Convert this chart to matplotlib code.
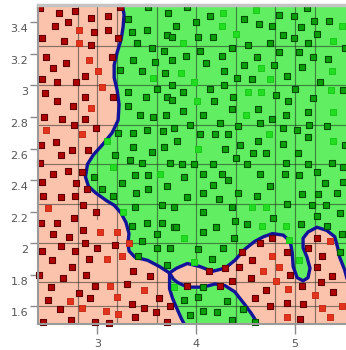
import matplotlib
matplotlib.use("Agg")
import matplotlib.pyplot as plt
from matplotlib.transforms import ScaledTranslation

# ---- class A (red) samples --------------------------------------------------
red_dark_x = [2.42, 2.61, 2.77, 2.94, 3.11, 3.23, 2.57, 2.70, 2.97, 3.11, 2.44, 2.66, 2.94, 3.21,
              2.48, 2.68, 3.15, 2.55, 2.44, 2.59, 2.78, 2.88, 2.47, 3.16, 2.59, 2.75, 2.88, 2.46,
              2.64, 2.88, 2.76, 2.99, 2.43, 2.58, 2.74, 2.91, 2.63, 2.42, 2.55, 2.70, 2.84, 2.44,
              2.78, 2.45, 2.63, 2.77, 2.90, 2.85, 2.99, 2.43, 2.59, 2.76, 2.55, 2.71, 2.85, 2.44,
              2.63, 2.77, 2.88, 3.00, 3.18, 2.54, 2.74, 2.92, 2.41, 2.65, 2.89, 3.36, 3.53, 2.53,
              2.98, 3.30, 2.81, 2.93, 3.62, 2.50, 3.35, 3.47, 3.73, 2.62, 3.38, 3.59, 2.45, 2.73,
              2.98, 3.12, 3.70,
              3.91, 4.24, 4.13, 4.29, 4.36, 4.43, 4.46, 4.56, 4.55, 4.59, 4.64, 4.77, 4.92, 4.95,
              5.07, 4.71, 4.75, 4.92, 5.08, 5.05, 5.22, 5.13, 5.27, 5.22, 5.37, 5.26, 5.38]
red_dark_y = [3.49, 3.46, 3.47, 3.43, 3.44, 3.50, 3.38, 3.40, 3.34, 3.35, 3.30, 3.28, 3.26, 3.30,
              3.18, 3.14, 3.18, 3.11, 3.04, 3.02, 3.02, 3.06, 2.95, 2.93, 2.90, 2.87, 2.93, 2.80,
              2.79, 2.79, 2.75, 2.73, 2.62, 2.64, 2.59, 2.59, 2.56, 2.51, 2.44, 2.46, 2.45, 2.39,
              2.38, 2.30, 2.29, 2.30, 2.34, 2.24, 2.20, 2.13, 2.13, 2.16, 2.06, 2.04, 2.08, 1.95,
              1.98, 1.95, 2.00, 1.97, 1.99, 1.89, 1.85, 1.90, 1.80, 1.78, 1.80, 1.82, 1.79, 1.72,
              1.73, 1.74, 1.68, 1.65, 1.65, 1.64, 1.61, 1.59, 1.60, 1.58, 1.53, 1.56, 1.50, 1.51,
              1.50, 1.49, 1.50,
              1.73, 1.73, 1.82, 1.84, 1.76, 1.85, 1.94, 1.89, 1.78, 1.65, 2.00, 2.03, 1.94, 1.80,
              1.73, 1.70, 1.60, 1.62, 1.61, 1.52, 2.03, 1.97, 1.92, 1.85, 1.79, 1.75, 1.69]

red_light_x = [2.81, 2.81, 2.92, 3.01, 3.05, 2.94, 2.48, 2.84, 2.50, 3.03, 3.20, 3.10, 3.25, 3.13,
               3.20, 3.47, 2.72, 2.84, 3.09, 3.21, 3.32, 4.67, 4.77, 4.84, 4.81, 4.93, 5.27, 4.92,
               5.35, 5.35, 5.47, 5.20]
red_light_y = [3.35, 3.27, 3.16, 3.09, 2.99, 2.86, 2.72, 2.69, 2.22, 2.07, 2.07, 1.90, 1.92, 1.73,
               1.66, 1.70, 1.63, 1.59, 1.57, 1.55, 2.00, 1.82, 1.92, 1.85, 1.76, 1.71, 1.59, 1.53,
               1.53, 2.01, 1.60, 1.67]

# ---- class B (green) samples ------------------------------------------------
green_dark_x = [3.51, 3.71, 3.31, 3.50, 3.35, 3.70, 3.40, 3.55, 3.67, 3.36, 3.58, 3.23, 3.45, 3.68,
                3.60, 3.31, 3.49, 3.70, 3.31, 3.43, 3.56, 3.69, 3.21, 3.36, 3.50, 3.66, 3.77, 3.36,
                3.67, 3.18, 3.55, 3.33, 3.45, 3.73, 2.97, 3.38, 3.51, 3.25, 3.05, 3.39, 3.51, 3.70,
                3.16, 3.38, 3.65, 3.78, 3.50, 3.65, 3.78, 3.35, 3.60, 3.45, 3.60, 3.73, 3.41, 3.70,
                4.02, 4.16, 4.27, 4.38,
                3.91, 4.14, 3.80, 4.00, 4.48, 4.63, 4.77, 4.84, 4.99, 5.12, 5.19, 5.34, 3.75, 4.02,
                4.17, 4.52, 4.75, 4.88, 4.99, 5.06, 5.13, 5.22, 4.04, 4.36, 4.84, 5.04, 5.18, 5.33,
                5.50, 3.75, 3.90, 4.26, 4.61, 4.79, 5.07, 4.10, 4.28, 4.48, 3.75, 4.14, 4.28, 4.41,
                4.56, 4.92, 5.25, 3.87, 4.81, 5.00, 5.48, 3.75, 4.18, 4.37, 4.93, 5.18, 3.87, 4.07,
                4.36, 4.62, 4.77, 4.91, 5.13, 3.94, 4.24, 4.42, 4.64, 4.88, 5.02, 5.14, 5.32, 3.81,
                4.04, 4.19, 4.32, 4.62, 4.88, 5.13, 5.50, 4.29, 4.44, 5.03, 4.57, 4.71, 3.86, 3.98,
                4.17, 4.40, 4.51, 4.91, 5.13, 5.37, 5.48, 4.07, 4.64, 4.90, 5.04, 5.22, 4.26, 5.48,
                5.30,
                3.88, 4.07, 4.17, 4.32, 4.42, 4.61, 4.75, 5.07, 5.23, 5.42, 3.91, 4.23, 4.07, 4.36,
                4.92, 5.17, 5.31, 5.45, 3.80, 4.07, 4.20, 4.39, 4.51, 4.78, 5.06, 5.22, 5.32, 5.47,
                5.45,
                3.88, 4.02, 4.31, 3.94, 4.07, 4.21, 4.36, 4.47, 4.59, 4.07]
green_dark_y = [3.50, 3.46, 3.42, 3.35, 3.34, 3.32, 3.27, 3.24, 3.22, 3.16, 3.15, 3.10, 3.09, 3.08,
                2.98, 2.96, 2.93, 2.93, 2.87, 2.81, 2.80, 2.81, 2.70, 2.70, 2.72, 2.71, 2.73, 2.61,
                2.61, 2.56, 2.58, 2.53, 2.51, 2.51, 2.42, 2.43, 2.43, 2.38, 2.34, 2.32, 2.34, 2.36,
                2.30, 2.23, 2.24, 2.23, 2.13, 2.13, 2.10, 2.11, 2.06, 2.01, 1.97, 1.97, 1.92, 1.86,
                1.96, 1.90, 1.97, 2.03,
                3.50, 3.44, 3.38, 3.40, 3.42, 3.39, 3.38, 3.45, 3.44, 3.49, 3.41, 3.41, 3.31, 3.31,
                3.31, 3.26, 3.27, 3.32, 3.30, 3.37, 3.27, 3.33, 3.22, 3.24, 3.21, 3.21, 3.18, 3.17,
                3.24, 3.16, 3.19, 3.19, 3.18, 3.13, 3.12, 3.14, 3.09, 3.13, 3.00, 2.98, 3.00, 3.05,
                3.04, 3.06, 3.02, 2.96, 2.94, 2.98, 2.97, 2.91, 2.90, 2.93, 2.90, 2.92, 2.84, 2.81,
                2.85, 2.85, 2.79, 2.81, 2.83, 2.75, 2.76, 2.74, 2.76, 2.73, 2.72, 2.75, 2.74, 2.65,
                2.69, 2.69, 2.69, 2.65, 2.63, 2.67, 2.62, 2.60, 2.62, 2.57, 2.57, 2.57, 2.50, 2.50,
                2.50, 2.54, 2.50, 2.51, 2.50, 2.51, 2.48, 2.44, 2.44, 2.44, 2.43, 2.45, 2.44, 2.39,
                2.38,
                2.42, 2.32, 2.37, 2.40, 2.32, 2.30, 2.36, 2.31, 2.31, 2.32, 2.29, 2.28, 2.20, 2.23,
                2.25, 2.24, 2.24, 2.19, 2.10, 2.07, 2.10, 2.14, 2.12, 2.16, 2.12, 2.17, 2.11, 2.06,
                1.94,
                1.64, 1.66, 1.63, 1.54, 1.57, 1.56, 1.51, 1.58, 1.50, 1.72]

green_light_x = [3.56, 3.10, 3.16, 3.63, 3.26, 3.88, 3.98, 4.27, 4.60, 4.26, 5.47, 3.87, 4.40, 5.38,
                 3.85, 4.65, 5.37, 3.98, 4.75, 4.52, 4.65, 5.36, 4.01, 4.50, 5.38, 4.74, 5.38, 4.02,
                 4.56, 4.71, 4.66, 4.91, 4.94, 5.04, 3.78]
green_light_y = [3.05, 2.65, 2.48, 2.44, 2.20, 2.03, 1.88, 3.46, 3.48, 3.38, 3.38, 3.27, 3.33, 3.28,
                 3.08, 3.11, 3.09, 3.02, 3.04, 2.96, 2.96, 2.97, 2.90, 2.81, 2.83, 2.69, 2.65, 2.60,
                 2.23, 2.23, 2.11, 2.11, 2.02, 1.89, 1.72]

# ---- decision boundary ------------------------------------------------------
# main curve: top edge -> saddle point -> winding to the right edge
bound_a_x = [3.25, 3.27, 3.26, 3.24, 3.20, 3.17, 3.17, 3.20, 3.22, 3.21, 3.15, 3.06, 2.96, 2.90,
             2.88, 2.91, 2.98, 3.09, 3.17, 3.24, 3.29, 3.32, 3.31, 3.32, 3.38, 3.51, 3.63, 3.73,
             3.80, 3.91, 4.04, 4.16, 4.29, 4.39, 4.49, 4.59, 4.68, 4.77, 4.88, 4.95, 4.97, 4.98,
             5.02, 5.08, 5.13, 5.15, 5.12, 5.08, 5.08, 5.13, 5.22, 5.32, 5.40, 5.43, 5.45, 5.50,
             5.53]
bound_a_y = [3.52, 3.45, 3.37, 3.29, 3.21, 3.13, 3.05, 2.97, 2.88, 2.78, 2.70, 2.63, 2.56, 2.50,
             2.42, 2.36, 2.32, 2.27, 2.24, 2.19, 2.13, 2.06, 2.00, 1.95, 1.91, 1.89, 1.85, 1.81,
             1.84, 1.87, 1.85, 1.82, 1.84, 1.89, 1.96, 2.01, 2.04, 2.06, 2.05, 2.01, 1.94, 1.85,
             1.78, 1.76, 1.78, 1.84, 1.91, 1.97, 2.03, 2.07, 2.10, 2.08, 2.04, 1.97, 1.91, 1.83,
             1.76]
# lower curve: bottom edge -> saddle point -> back to the bottom edge
bound_b_x = [3.90, 3.85, 3.80, 3.76, 3.73, 3.73, 3.77, 3.81, 3.91, 4.07, 4.19, 4.29, 4.39, 4.49,
             4.56, 4.61, 4.64]
bound_b_y = [1.46, 1.52, 1.59, 1.65, 1.71, 1.81, 1.77, 1.75, 1.72, 1.72, 1.74, 1.73, 1.69, 1.61,
             1.55, 1.50, 1.47]

grid_x = [2.8, 3.2, 3.6, 4.0, 4.4, 4.8, 5.0, 5.2]
grid_y = [1.6, 1.75, 2.0, 2.25, 2.5, 2.75, 3.0, 3.25]

x_ticks = [3, 4, 5]
x_labels = ["3", "4", "5"]
y_ticks = [1.6, 1.8, 2.0, 2.2, 2.4, 2.6, 2.8, 3.0, 3.2, 3.4]
y_labels = ["1.6", "1.8", "2", "2.2", "2.4", "2.6", "2.8", "3", "3.2", "3.4"]

SALMON = "#fbc3ab"
GREEN = "#62ee62"

fig = plt.figure(figsize=(3.46, 3.5), dpi=100)
ax = fig.add_axes([38 / 346, 26 / 350, 308 / 346, 319 / 350])
ax.set_xlim(2.4, 5.514)
ax.set_ylim(1.486, 3.511)
ax.set_facecolor(SALMON)

# green regions
ax.fill(bound_a_x + [5.8, 5.8, 3.25], bound_a_y + [1.76, 3.8, 3.8],
        color=GREEN, lw=0, zorder=1)
ax.fill(bound_b_x + [4.64, 3.90], bound_b_y + [1.3, 1.3], color=GREEN, lw=0, zorder=1)

# cell grid
for gx in grid_x:
    ax.axvline(gx, color="#1a1a1a", alpha=0.5, lw=0.85, zorder=2)
for gy in grid_y:
    ax.axhline(gy, color="#1a1a1a", alpha=0.5, lw=0.85, zorder=2)
ax.plot([3.0, 3.0], [2.15, 3.6], color="#1a1a1a", alpha=0.5, lw=0.85, zorder=2)

# boundary
for bx, by in ((bound_a_x, bound_a_y), (bound_b_x, bound_b_y)):
    ax.plot(bx, by, color="#13139a", lw=2.4, solid_capstyle="round",
            solid_joinstyle="round", zorder=3)

# samples
MS = 19
ax.scatter(red_dark_x, red_dark_y, marker="s", s=MS, c="#b00404",
           edgecolors="#5e0000", linewidths=0.8, zorder=4, clip_on=False)
ax.scatter(red_light_x, red_light_y, marker="s", s=MS, c="#e4331c",
           edgecolors="#c0220f", linewidths=0.6, zorder=4, clip_on=False)
ax.scatter(green_dark_x, green_dark_y, marker="s", s=MS, c="#0a9e0a",
           edgecolors="#024d02", linewidths=0.8, zorder=4, clip_on=False)
ax.scatter(green_light_x, green_light_y, marker="s", s=MS, c="#22dd22",
           edgecolors="#14c414", linewidths=0.6, zorder=4, clip_on=False)

# axes decoration
ax.set_xticks(x_ticks)
ax.set_xticklabels(x_labels)
ax.set_yticks(y_ticks)
ax.set_yticklabels(y_labels)
ax.tick_params(axis="x", direction="out", length=7, width=1, color="#8a8a8a",
               pad=4, labelsize=8, labelcolor="#555555")
ax.tick_params(axis="y", direction="out", length=6, width=1, color="#8a8a8a",
               pad=1, labelsize=8, labelcolor="#555555")
shift = ScaledTranslation(0, -0.06, fig.dpi_scale_trans)
for lbl in ax.get_yticklabels():
    lbl.set_transform(lbl.get_transform() + shift)

ax.spines["right"].set_visible(False)
for side in ("left", "bottom"):
    ax.spines[side].set_color("#9a9a9a")
    ax.spines[side].set_linewidth(1.5)
ax.spines["top"].set_color("#c4c4c4")
ax.spines["top"].set_linewidth(2.5)
for sp in ax.spines.values():
    sp.set_zorder(6)

fig.savefig("out.png", dpi=100)
